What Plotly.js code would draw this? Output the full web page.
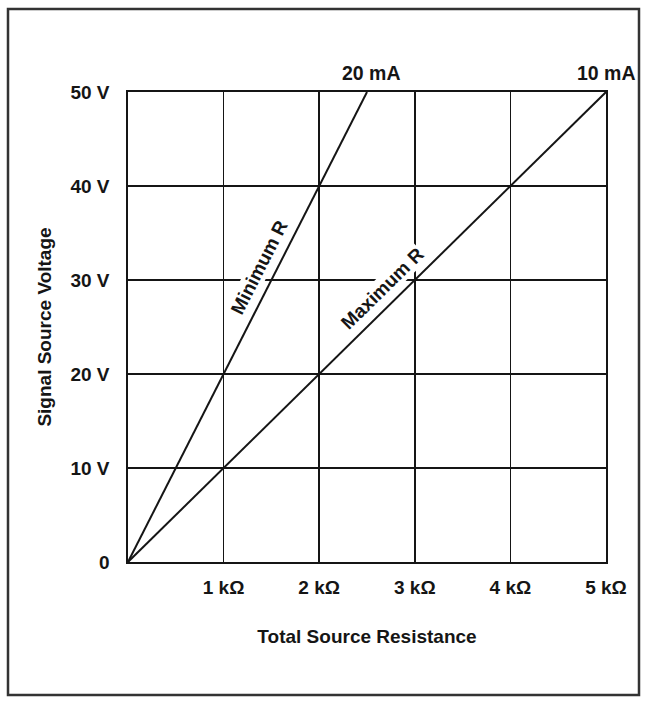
<!DOCTYPE html>
<html>
<head>
<meta charset="utf-8">
<script src="https://cdn.plot.ly/plotly-3.0.1.min.js"></script>
<style>
html,body{margin:0;padding:0;background:#fff;}
#chart{width:647px;height:704px;}
</style>
</head>
<body>
<div id="chart"></div>
<script>
// Data (resistance in kΩ, voltage in V)
const minR_kohm = [0, 1, 2, 2.5];       // 20 mA line
const minR_volts = [0, 20, 40, 50];
const maxR_kohm = [0, 1, 2, 3, 4, 5];   // 10 mA line
const maxR_volts = [0, 10, 20, 30, 40, 50];

const xTickVals = [1, 2, 3, 4, 5];
const xTickText = ["1 kΩ", "2 kΩ", "3 kΩ", "4 kΩ", "5 kΩ"];
const yTickVals = [0, 10, 20, 30, 40, 50];
const yTickText = ["0", "10 V", "20 V", "30 V", "40 V", "50 V"];

const FONT = "'Liberation Sans', Arial, Helvetica, sans-serif";
const INK = '#151515';

const W = 647, H = 704;
const mL = 128, mR = 41, mT = 92, mB = 142;
const pw = W - mL - mR, ph = H - mT - mB;
function px2paperX(p){ return (p - mL) / pw; }
function px2paperY(p){ return (H - mB - p) / ph; }

const traces = [
  {x: minR_kohm, y: minR_volts, mode: 'lines', line: {color: INK, width: 2}, hoverinfo: 'skip', showlegend: false},
  {x: maxR_kohm, y: maxR_volts, mode: 'lines', line: {color: INK, width: 2}, hoverinfo: 'skip', showlegend: false}
];

const tf = (s) => ({family: FONT, size: s, color: INK, weight: 'bold'});

const layout = {
  width: W, height: H,
  margin: {l: mL, r: mR, t: mT, b: mB, pad: 0},
  paper_bgcolor: '#fff', plot_bgcolor: '#fff',
  font: {family: FONT, size: 19, color: INK},
  showlegend: false,
  xaxis: {
    range: [0, 5], fixedrange: true,
    tickvals: xTickVals, ticktext: xTickText,
    ticks: 'outside', ticklen: 7, tickcolor: 'rgba(0,0,0,0)',
    showgrid: true, gridcolor: INK, gridwidth: 1.7,
    showline: true, linecolor: INK, linewidth: 1.7, mirror: true,
    zeroline: false,
    tickfont: tf(19),
    title: {text: 'Total Source Resistance', font: tf(19), standoff: 33}
  },
  yaxis: {
    range: [0, 50], fixedrange: true,
    tickvals: yTickVals, ticktext: yTickText,
    ticks: 'outside', ticklen: 13, tickcolor: 'rgba(0,0,0,0)',
    showgrid: true, gridcolor: INK, gridwidth: 1.7,
    showline: true, linecolor: INK, linewidth: 1.7, mirror: true,
    zeroline: false,
    tickfont: tf(19),
    title: {text: 'Signal Source Voltage', font: tf(19), standoff: 14}
  },
  annotations: [
    {x: 2.55, y: 50, xref: 'x', yref: 'y', text: '20 mA', showarrow: false,
     yanchor: 'bottom', xanchor: 'center', yshift: 6, font: tf(19.5)},
    {x: 5, y: 50, xref: 'x', yref: 'y', text: '10 mA', showarrow: false,
     yanchor: 'bottom', xanchor: 'center', yshift: 6, font: tf(19.5)},
    {x: 1.38, y: 31.4, xref: 'x', yref: 'y', text: 'Minimum R', showarrow: false, textangle: -63,
     bgcolor: '#fff', borderpad: 0, font: tf(19)},
    {x: 2.66, y: 29.1, xref: 'x', yref: 'y', text: 'Maximum R', showarrow: false, textangle: -44.5,
     bgcolor: '#fff', borderpad: 0, font: tf(19)}
  ],
  shapes: [
    {type: 'rect', xref: 'paper', yref: 'paper', layer: 'above',
     x0: px2paperX(8), x1: px2paperX(639), y0: px2paperY(695), y1: px2paperY(9),
     line: {color: '#333', width: 2.5}, fillcolor: 'rgba(0,0,0,0)'}
  ]
};

Plotly.newPlot('chart', traces, layout, {staticPlot: true, displayModeBar: false});
</script>
</body>
</html>
